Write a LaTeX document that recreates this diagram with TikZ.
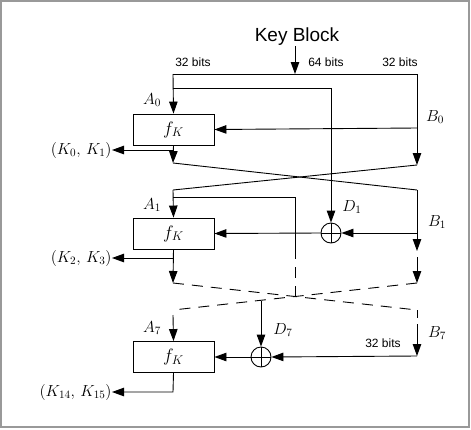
\RequirePackage{fix-cm}
\documentclass[tikz,border=0pt]{standalone}
\usepackage{fontspec}
\setsansfont{Liberation Sans}
\usetikzlibrary{arrows.meta}
\begin{document}
\begin{tikzpicture}
		[x=1pt,y=-1pt,line width=0.9pt,
		arr/.style={-{Triangle[length=12pt,width=8.5pt]}},
		fbox/.style={draw,minimum width=81pt,minimum height=31pt,inner sep=0pt,font=\fontsize{18}{21}\selectfont},
		xornode/.style={circle,draw,minimum size=20pt,inner sep=0pt,
			path picture={\draw (path picture bounding box.north) -- (path picture bounding box.south)
				(path picture bounding box.west) -- (path picture bounding box.east);}},
		lab/.style={font=\fontsize{16}{19}\selectfont,inner sep=0pt},
		bits/.style={font=\sffamily\fontsize{12}{14}\selectfont,inner sep=0pt},
		dashline/.style={dash pattern=on 11pt off 8pt}]
		\useasboundingbox (0,0) rectangle (471,429);
		\draw[gray!80,line width=1.5pt] (1,1) rectangle (469,427);
		% key block input
		\node[font=\sffamily\fontsize{19}{22}\selectfont,inner sep=0pt,name=key] at (297,37) {Key Block};
		\coordinate (top) at (295,74);
		\draw[arr] (key.south -| top) -- (top);
		\node[bits,name=w1] at (193,62) {32 bits};
		\node[bits,name=w2] at (326,62) {64 bits};
		\node[bits,name=w3] at (400,62) {32 bits};
		\node[bits,name=w4] at (383,343) {32 bits};
		% boxes, xors, labels
		\foreach \n/\y in {0/129.5,1/233.5,7/357}
		{
			\node[fbox,name=f\n] at (173.5,\y) {$f_K$};
		}
		\node[xornode,name=x1] at (331,233) {};
		\node[xornode,name=x7] at (261,357) {};
		\foreach \n/\y in {0/100,1/205,7/328}
		{
			\node[lab,name=a\n] at (152,\y) {$A_{\n}$};
		}
		\node[lab,name=b0] at (435,117) {$B_0$};
		\node[lab,name=b1] at (437,222) {$B_1$};
		\node[lab,name=b7] at (437,333) {$B_7$};
		\node[lab,name=d1] at (352,207) {$D_1$};
		\node[lab,name=d7] at (283,330) {$D_7$};
		\node[lab,anchor=east,name=k0] at (112,150) {$(K_0,\,K_1)$};
		\node[lab,anchor=east,name=k1] at (112,258) {$(K_2,\,K_3)$};
		\node[lab,anchor=east,name=k7] at (112,392) {$(K_{14},\,K_{15})$};
		% round 0
		\draw (173,74) -- (417,74);
		\draw[arr] (173,74) -- (f0.north);
		\draw[arr] (173,88) -- (331,88) -- (x1.north);
		\draw[arr] (417,74) -- (417,165);
		\draw[arr] (417,128) -- (f0.east);
		\draw[arr] (f0.south) -- (173,163);
		\draw[arr] (173,150) -- (k0.east);
		\draw (173,163) -- (417,190);
		\draw (417,165) -- (173,190);
		% round 1
		\draw[arr] (173,190) -- (f1.north);
		\draw (173,197) -- (295,197) -- (295,248);
		\draw[dashline] (295,248) -- (295,297);
		\draw[arr] (417,190) -- (417,251);
		\draw[arr] (417,233) -- (x1.east);
		\draw[arr] (x1.west) -- (f1.east);
		\draw[arr] (417,257) -- (417,283);
		\draw[arr] (f1.south) -- (173,283);
		\draw[arr] (173,258) -- (k1.east);
		\draw[dashline] (173,283) -- (417,310);
		\draw[dashline] (417,283) -- (173,310);
		% round 7
		\draw[arr] (261,301) -- (x7.north);
		\draw[arr] (173,315) -- (f7.north);
		\draw (417,310) -- (417,318);
		\draw[arr] (417,324) -- (417,356);
		\draw[arr] (417,356) -- (x7.east);
		\draw[arr] (x7.west) -- (f7.east);
		\draw[arr] (f7.south) -- (173,392) -- (k7.east);
	\end{tikzpicture}
\end{document}
